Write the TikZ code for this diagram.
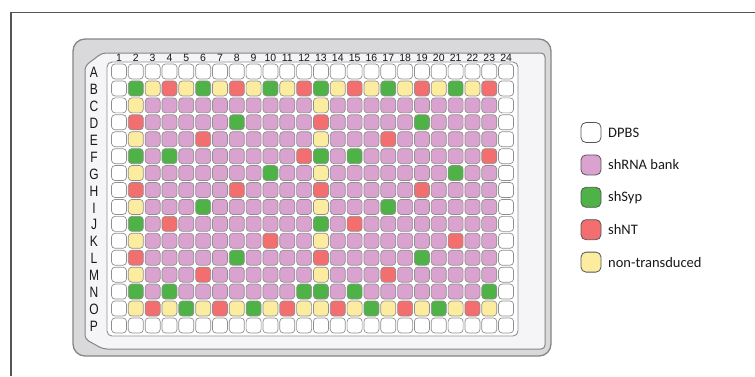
\documentclass[tikz,border=0pt]{standalone}
\usepackage{fontspec}
\setmainfont{Liberation Sans}
\newfontfamily\legendfont{Carlito}
\definecolor{cW}{HTML}{FFFFFF}
\definecolor{cP}{HTML}{DAA3CF}
\definecolor{cG}{HTML}{4EB246}
\definecolor{cR}{HTML}{F36E6E}
\definecolor{cY}{HTML}{FCECA0}
\definecolor{wellgray}{HTML}{8F8F8F}
\definecolor{platefill}{HTML}{D9D9DB}
\definecolor{plateline}{HTML}{858585}
\definecolor{facefill}{HTML}{F5F4F7}
\definecolor{framecol}{HTML}{555555}
\tikzset{
  wellbox/.style={draw=wellgray, line width=0.7pt, rounded corners=3.5pt, minimum size=15pt, inner sep=0pt},
  legbox/.style={draw=framecol, line width=0.8pt, rounded corners=5pt, minimum size=20pt, inner sep=0pt},
  legtext/.style={anchor=west, inner sep=0pt, font=\legendfont\fontsize{14.5}{16}\selectfont, text=black!90},
  colnum/.style={inner sep=0pt, font=\fontsize{10.5}{12}\selectfont, text=black!90},
  rowlet/.style={inner sep=0pt, font=\fontsize{15}{16}\selectfont, text=black!90}
}
\begin{document}
\begin{tikzpicture}[x=1pt,y=-1pt]
\useasboundingbox (0,0) rectangle (755,376);
% outer frame
\draw[framecol, line width=1.4pt] (11,376) -- (11,12.5) -- (755,12.5);
% plate body
\draw[plateline, line width=1.3pt, fill=platefill, rounded corners=12pt] (73,39) rectangle (551,356);
% plate face with chamfered left corners
\draw[plateline, line width=1pt, fill=facefill, rounded corners=4pt]
  (102,53) -- (545,53) -- (545,349) -- (103,349) -- (85,339) -- (85,66) -- cycle;
% well area
\draw[wellgray, line width=0.9pt, fill=white, rounded corners=5pt] (107,62) rectangle (518,336);
% column numbers
\foreach \c in {1,...,24}{
  \node[colnum] (n\c) at ({119+(\c-1)*16.83},58) {\c};
}
% row letters
\foreach \L [count=\r] in {A,B,C,D,E,F,G,H,I,J,K,L,M,N,O,P}{
  \node[rowlet] (l\r) at (94,{72.5+(\r-1)*16.93}) {\scalebox{0.8}[1]{\L}};
}
% wells
\foreach \row [count=\r] in {
 {W,W,W,W,W,W,W,W,W,W,W,W,W,W,W,W,W,W,W,W,W,W,W,W},
 {W,G,Y,R,Y,G,Y,R,Y,G,Y,R,G,Y,R,Y,G,Y,R,Y,G,Y,R,W},
 {W,Y,P,P,P,P,P,P,P,P,P,P,Y,P,P,P,P,P,P,P,P,P,P,W},
 {W,R,P,P,P,P,P,G,P,P,P,P,R,P,P,P,P,P,G,P,P,P,P,W},
 {W,Y,P,P,P,R,P,P,P,P,P,P,Y,P,P,P,R,P,P,P,P,P,P,W},
 {W,G,P,G,P,P,P,P,P,P,P,R,G,P,G,P,P,P,P,P,P,P,R,W},
 {W,Y,P,P,P,P,P,P,P,G,P,P,Y,P,P,P,P,P,P,P,G,P,P,W},
 {W,R,P,P,P,P,P,R,P,P,P,P,R,P,P,P,P,P,R,P,P,P,P,W},
 {W,Y,P,P,P,G,P,P,P,P,P,P,Y,P,P,P,G,P,P,P,P,P,P,W},
 {W,G,P,R,P,P,P,P,P,P,P,P,G,P,R,P,P,P,P,P,P,P,P,W},
 {W,Y,P,P,P,P,P,P,P,R,P,P,Y,P,P,P,P,P,P,P,R,P,P,W},
 {W,R,P,P,P,P,P,G,P,P,P,P,R,P,P,P,P,P,G,P,P,P,P,W},
 {W,Y,P,P,P,R,P,P,P,P,P,P,Y,P,P,P,R,P,P,P,P,P,P,W},
 {W,G,P,G,P,P,P,P,P,P,P,G,G,P,G,P,P,P,P,P,P,P,G,W},
 {W,Y,R,Y,G,Y,R,Y,G,Y,R,Y,Y,R,Y,G,Y,R,Y,G,Y,R,Y,W},
 {W,W,W,W,W,W,W,W,W,W,W,W,W,W,W,W,W,W,W,W,W,W,W,W}}{
  \foreach \k [count=\c] in \row {
    \node[wellbox, fill=c\k] (w-\r-\c) at ({119+(\c-1)*16.83},{71.5+(\r-1)*16.93}) {};
  }
}
% legend
\foreach \k/\t [count=\i] in {W/DPBS, P/shRNA bank, G/shSyp, R/shNT, Y/non-transduced}{
  \node[legbox, fill=c\k] (lg\i) at (591,{132.5+(\i-1)*32.4}) {};
  \node[legtext] (lt\i) at (608,{132.5+(\i-1)*32.4}) {\t};
}
\end{tikzpicture}
\end{document}
